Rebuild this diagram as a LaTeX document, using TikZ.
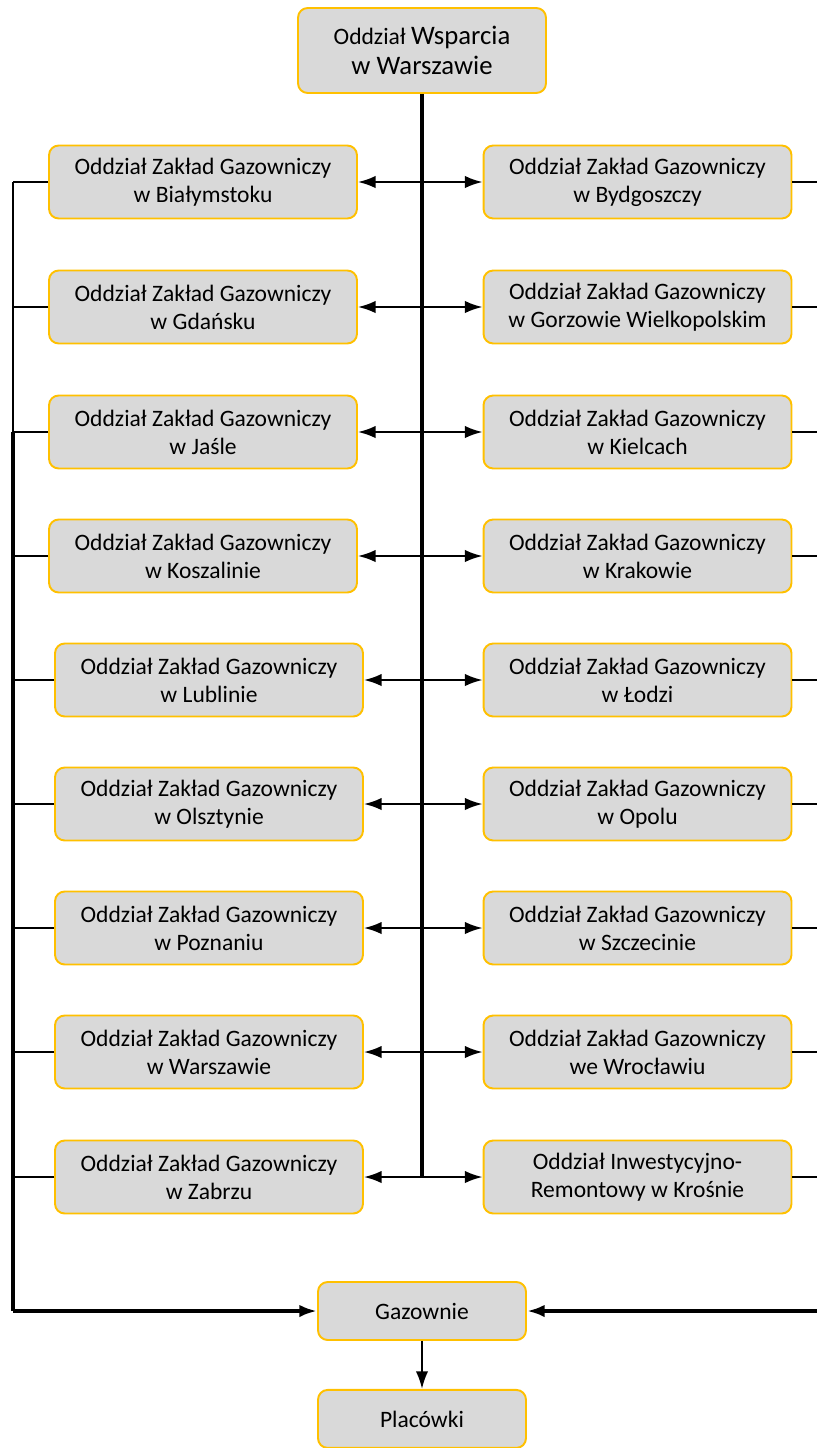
\documentclass[tikz,border=0pt]{standalone}
\usepackage{fontspec}
\setmainfont{Carlito}
\usetikzlibrary{arrows.meta,positioning}
\definecolor{boxfill}{HTML}{D9D9D9}
\definecolor{boxline}{HTML}{FFC000}
\tikzstyle{unit} = [rectangle, draw=boxline, fill=boxfill, line width=1.1pt,
    rounded corners=5.5pt, align=center, font=\fontsize{13.4}{16}\selectfont,
    minimum width=6.16cm, minimum height=1.46cm, inner sep=1pt]
\tikzstyle{small} = [unit, minimum width=4.16cm, minimum height=1.16cm]
\tikzstyle{thin} = [line width=1.2pt]
\tikzstyle{thick} = [line width=2pt]

\begin{document}
\begin{tikzpicture}[x=0.02cm,y=-0.02cm,>={Latex[length=10pt,width=7pt]}]
  \useasboundingbox (0,0) rectangle (816,1448);
  % head office
  \node[unit, minimum width=4.96cm, minimum height=1.7cm] (ow) at (422,50.5)
    {Oddział {\fontsize{15.2}{17.6}\selectfont Wsparcia}\\[1pt]{\fontsize{15.2}{17.6}\selectfont w Warszawie}};

  % left column
  \node[unit] (bia) at (203,182)  {Oddział Zakład Gazowniczy\\w Białymstoku};
  \node[unit] (gda) at (203,307)  {Oddział Zakład Gazowniczy\\w Gdańsku};
  \node[unit] (jas) at (203,432)  {Oddział Zakład Gazowniczy\\w Jaśle};
  \node[unit] (kos) at (203,556)  {Oddział Zakład Gazowniczy\\w Koszalinie};
  \node[unit] (lub) at (209,680)  {Oddział Zakład Gazowniczy\\w Lublinie};
  \node[unit] (ols) at (209,804)  {Oddział Zakład Gazowniczy\\w Olsztynie};
  \node[unit] (poz) at (209,928)  {Oddział Zakład Gazowniczy\\w Poznaniu};
  \node[unit] (war) at (209,1052) {Oddział Zakład Gazowniczy\\w Warszawie};
  \node[unit] (zab) at (209,1177) {Oddział Zakład Gazowniczy\\w Zabrzu};

  % right column
  \node[unit] (byd) at (637.5,182)  {Oddział Zakład Gazowniczy\\w Bydgoszczy};
  \node[unit] (gor) at (637.5,307)  {Oddział Zakład Gazowniczy\\w Gorzowie Wielkopolskim};
  \node[unit] (kie) at (637.5,432)  {Oddział Zakład Gazowniczy\\w Kielcach};
  \node[unit] (kra) at (637.5,556)  {Oddział Zakład Gazowniczy\\w Krakowie};
  \node[unit] (lod) at (637.5,680)  {Oddział Zakład Gazowniczy\\w Łodzi};
  \node[unit] (opo) at (637.5,804)  {Oddział Zakład Gazowniczy\\w Opolu};
  \node[unit] (szc) at (637.5,928)  {Oddział Zakład Gazowniczy\\w Szczecinie};
  \node[unit] (wro) at (637.5,1052) {Oddział Zakład Gazowniczy\\we Wrocławiu};
  \node[unit] (kro) at (637.5,1177) {Oddział Inwestycyjno-\\Remontowy w Krośnie};

  % bottom
  \node[small] (gaz) at (422,1311) {Gazownie};
  \node[small] (pla) [below=0.96cm of gaz] {Placówki};

  % rails
  \coordinate (lt) at (13,182);
  \coordinate (lm) at (13,432);
  \coordinate (lb) at (13,1311);
  \coordinate (rt) at (824,182);
  \coordinate (rb) at (824,1311);
  \coordinate (hub) at (422,1177);

  \draw[thick] (ow.south) -- (hub);
  \draw[thin] (lt) -- (lm);
  \draw[thick] (lm) -- (lb);
  \draw[thick] (rt) -- (rb);
  \draw[thick,->] (lb) -- (gaz.west);
  \draw[thick,->] (rb) -- (gaz.east);
  \draw[thin,->] (gaz.south) -- (pla.north);

  \foreach \l/\r in {bia/byd,gda/gor,jas/kie,kos/kra,lub/lod,ols/opo,poz/szc,war/wro,zab/kro}
  {
    \draw[thin,<->] (\l.east) -- (\r.west);
    \draw[thin] (\l.west) -- (\l.west -| lt);
    \draw[thin] (\r.east) -- (\r.east -| rt);
  }
\end{tikzpicture}
\end{document}
